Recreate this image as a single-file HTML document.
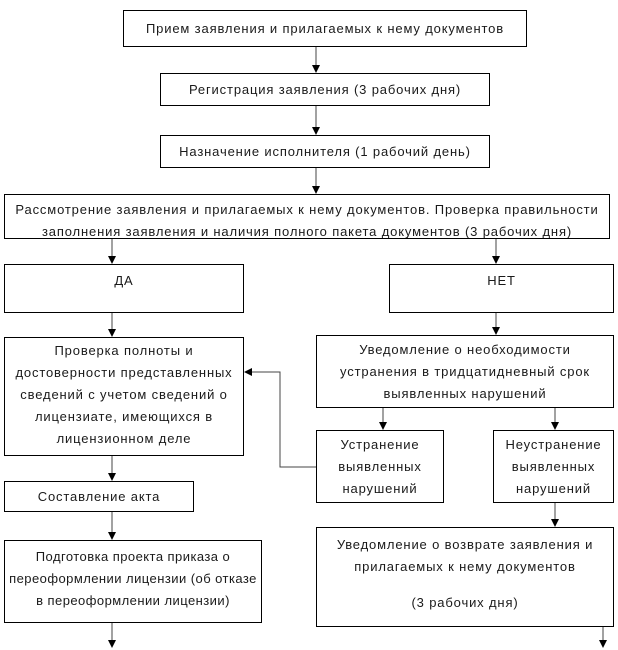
<!DOCTYPE html>
<html><head><meta charset="utf-8"><style>
body{margin:0;width:618px;height:650px;background:#fff;position:relative;font-family:"Liberation Sans",sans-serif;font-size:13px;letter-spacing:0.85px;color:#1a1a1a;overflow:hidden}
.b{position:absolute;border:1px solid #000;box-sizing:border-box;text-align:center;background:#fff;overflow:hidden;white-space:nowrap}
svg{position:absolute;left:0;top:0}
</style></head><body>
<svg width="618" height="650">
<defs><marker id="a" markerWidth="8" markerHeight="8" refX="7" refY="4" orient="auto" markerUnits="userSpaceOnUse"><path d="M0,0 L8,4 L0,8z" fill="#000"/></marker></defs>
<g stroke="#444" stroke-width="1" fill="none" marker-end="url(#a)">
<line x1="316" y1="47" x2="316" y2="72"/>
<line x1="316" y1="106" x2="316" y2="134"/>
<line x1="316" y1="168" x2="316" y2="193"/>
<line x1="112" y1="239" x2="112" y2="263"/>
<line x1="496" y1="239" x2="496" y2="263"/>
<line x1="112" y1="313" x2="112" y2="336"/>
<line x1="496" y1="313" x2="496" y2="334"/>
<line x1="383" y1="408" x2="383" y2="429"/>
<line x1="555" y1="408" x2="555" y2="429"/>
<line x1="112" y1="456" x2="112" y2="480"/>
<line x1="112" y1="512" x2="112" y2="539"/>
<line x1="555" y1="503" x2="555" y2="526"/>
<line x1="112" y1="623" x2="112" y2="647"/>
<line x1="603" y1="627" x2="603" y2="647"/>
<polyline points="316,467 280,467 280,372 245,372"/>
</g></svg>
<div class="b" style="left:123px;top:10px;width:404px;height:37px;line-height:35px">Прием заявления и прилагаемых к нему документов</div>
<div class="b" style="left:160px;top:73px;width:330px;height:33px;line-height:31px">Регистрация заявления (3 рабочих дня)</div>
<div class="b" style="left:160px;top:135px;width:330px;height:33px;line-height:31px">Назначение исполнителя (1 рабочий день)</div>
<div class="b" style="left:4px;top:194px;width:606px;height:45px;line-height:22px;padding-top:4px">Рассмотрение заявления и прилагаемых к нему документов. Проверка правильности<br>заполнения заявления и наличия полного пакета документов (3 рабочих дня)</div>
<div class="b" style="left:4px;top:264px;width:240px;height:49px;line-height:22px;padding-top:5px">ДА</div>
<div class="b" style="left:389px;top:264px;width:225px;height:49px;line-height:22px;padding-top:5px">НЕТ</div>
<div class="b" style="left:4px;top:337px;width:240px;height:119px;line-height:22px;padding-top:2px">Проверка полноты и<br>достоверности представленных<br>сведений с учетом сведений о<br>лицензиате, имеющихся в<br>лицензионном деле</div>
<div class="b" style="left:316px;top:335px;width:298px;height:73px;line-height:22px;padding-top:3px">Уведомление о необходимости<br>устранения в тридцатидневный срок<br>выявленных нарушений</div>
<div class="b" style="left:316px;top:430px;width:128px;height:73px;line-height:22px;padding-top:3px">Устранение<br>выявленных<br>нарушений</div>
<div class="b" style="left:493px;top:430px;width:121px;height:73px;line-height:22px;padding-top:3px">Неустранение<br>выявленных<br>нарушений</div>
<div class="b" style="left:4px;top:481px;width:190px;height:31px;line-height:29px">Составление акта</div>
<div class="b" style="left:4px;top:540px;width:258px;height:83px;line-height:22px;padding-top:5px;letter-spacing:0.45px">Подготовка проекта приказа о<br>переоформлении лицензии (об отказе<br>в переоформлении лицензии)</div>
<div class="b" style="left:316px;top:527px;width:298px;height:100px;line-height:22px;padding-top:6px">Уведомление о возврате заявления и<br>прилагаемых к нему документов<br><div style="height:14px"></div>(3 рабочих дня)</div>
</body></html>
